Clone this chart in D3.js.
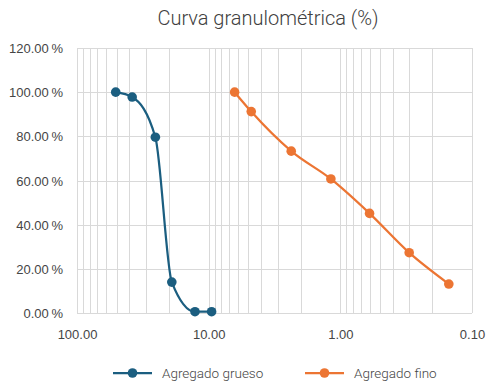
<!DOCTYPE html>
<html>
<head>
<meta charset="utf-8">
<script src="https://cdn.jsdelivr.net/npm/d3@7"></script>
<style>
  html, body { margin: 0; padding: 0; background: #fff; }
  svg { display: block; font-family: Roboto, "Noto Sans", sans-serif; }
</style>
</head>
<body>
<svg id="chart" width="488" height="384"></svg>
<script>
// Sieve openings (mm) and percent passing for each aggregate
const coarseSizes = [50.8, 38.1, 25.4, 19.05, 12.7, 9.5];
const coarsePassing = [100, 97.8, 79.6, 14.0, 0.6, 0.6];
const fineSizes = [6.35, 4.75, 2.36, 1.18, 0.6, 0.3, 0.15];
const finePassing = [100, 91.2, 73.3, 60.7, 45.1, 27.3, 13.1];

const seriesNames = ["Agregado grueso", "Agregado fino"];
const seriesColors = ["#1b5e80", "#ec7533"];
const xTicks = [100, 10, 1, 0.1];
const yTicks = [0, 20, 40, 60, 80, 100, 120];
const title = "Curva granulométrica (%)";

const svg = d3.select("#chart");
const margin = { left: 77, right: 16, top: 48, bottom: 71 };
const W = 488, H = 384;

// Log scale, reversed: coarse sizes on the left
const x = d3.scaleLog().domain([100, 0.1]).range([margin.left, W - margin.right]);
const y = d3.scaleLinear().domain([0, 120]).range([H - margin.bottom, margin.top]);

const gridColor = "#d9d9d9";
const textColor = "#454545";

// Vertical grid: every 1..9 step of each decade
const xGrid = [];
for (let e = -1; e < 2; e++) {
  for (let m = 1; m <= 9; m++) xGrid.push(m * Math.pow(10, e));
}
xGrid.push(100);

svg.append("g").selectAll("line").data(xGrid).join("line")
  .attr("x1", d => Math.round(x(d)) + 0.5).attr("x2", d => Math.round(x(d)) + 0.5)
  .attr("y1", y(120)).attr("y2", y(0))
  .attr("stroke", gridColor).attr("stroke-width", 1);

svg.append("g").selectAll("line").data(yTicks).join("line")
  .attr("x1", x(100)).attr("x2", x(0.1))
  .attr("y1", d => Math.round(y(d)) + 0.5).attr("y2", d => Math.round(y(d)) + 0.5)
  .attr("stroke", gridColor).attr("stroke-width", 1);

// Axes (labels only; lines come from the grid)
const yAxis = d3.axisLeft(y).tickValues(yTicks).tickSize(0).tickPadding(14)
  .tickFormat(d => d3.format(".2f")(d) + "\u2009%");
const gy = svg.append("g").attr("transform", `translate(${margin.left},0)`).call(yAxis);
gy.select(".domain").remove();
gy.selectAll("text").attr("fill", textColor).style("font-size", "13px")
  .style("font-weight", 300).attr("dy", "0.35em");

const xAxis = d3.axisBottom(x).tickValues(xTicks).tickSize(0).tickPadding(17)
  .tickFormat(d3.format(".2f"));
const gx = svg.append("g").attr("transform", `translate(0,${y(0)})`).call(xAxis);
gx.select(".domain").remove();
gx.selectAll("text").attr("fill", textColor).style("font-size", "13px")
  .style("font-weight", 300);

// Title
svg.append("text").attr("x", 268).attr("y", 25).attr("text-anchor", "middle")
  .attr("fill", "#404040").style("font-size", "20px").style("font-weight", 300)
  .text(title);

// Series
const series = [
  { name: seriesNames[0], color: seriesColors[0], pts: coarseSizes.map((s, i) => [s, coarsePassing[i]]) },
  { name: seriesNames[1], color: seriesColors[1], pts: fineSizes.map((s, i) => [s, finePassing[i]]) }
];

const line = d3.line().x(d => x(d[0])).y(d => y(d[1])).curve(d3.curveMonotoneX);

series.forEach(s => {
  svg.append("path").datum(s.pts)
    .attr("d", line)
    .attr("fill", "none").attr("stroke", s.color).attr("stroke-width", 2.25);
  svg.append("g").selectAll("circle").data(s.pts).join("circle")
    .attr("cx", d => x(d[0])).attr("cy", d => y(d[1])).attr("r", 4.8)
    .attr("fill", s.color);
});

// Legend
const legendY = 373;
const legendX = [113, 305];
series.forEach((s, i) => {
  const g = svg.append("g").attr("transform", `translate(${legendX[i]},${legendY})`);
  g.append("line").attr("x1", 0).attr("x2", 39).attr("y1", 0).attr("y2", 0)
    .attr("stroke", s.color).attr("stroke-width", 2.25);
  g.append("circle").attr("cx", 19.5).attr("cy", 0).attr("r", 4.8).attr("fill", s.color);
  g.append("text").attr("x", 49).attr("y", 0).attr("dy", "0.35em")
    .attr("fill", textColor).style("font-size", "13.5px").style("font-weight", 300)
    .text(s.name);
});
</script>
</body>
</html>
